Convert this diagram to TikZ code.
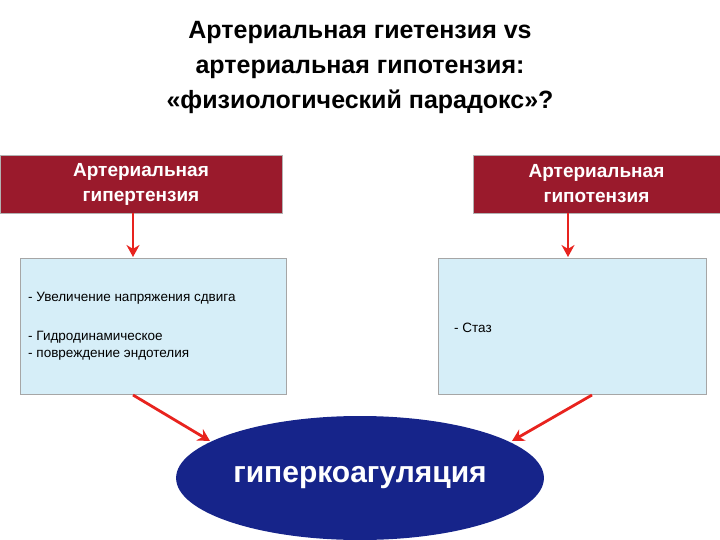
\documentclass[tikz,border=0pt]{standalone}
\usepackage{fontspec}
\setmainfont{Liberation Sans}
\usetikzlibrary{arrows.meta,shapes.geometric}
\definecolor{dred}{HTML}{9A1A2C}
\definecolor{lblue}{HTML}{D6EEF8}
\definecolor{navy}{HTML}{16248A}
\definecolor{arr}{HTML}{E8231E}
\tikzset{
 hdr/.style={fill=dred,draw=gray!60,text=white,font=\fontsize{19}{25}\selectfont\bfseries,align=center,inner sep=0},
 body/.style={fill=lblue,draw=gray!70,line width=0.8pt},
 txt/.style={font=\fontsize{13.5}{16.5}\selectfont,align=left,anchor=west,inner sep=0},
 rarr/.style={draw=arr,line width=2.8pt,-{Stealth[length=12pt,width=13pt]}}
}
\begin{document}
\begin{tikzpicture}[x=1pt,y=-1pt]
\useasboundingbox (0,0) rectangle (720,540);
\node[font=\fontsize{25}{35}\selectfont\bfseries,align=center] (title) at (360,67)
 {Артериальная гиетензия vs\\артериальная гипотензия:\\«физиологический парадокс»?};
\node[hdr,minimum width=282pt,minimum height=58pt] (h1) at (141,184) {Артериальная\\гипертензия};
\node[hdr,minimum width=247pt,minimum height=58pt] (h2) at (596.5,184) {Артериальная\\гипотензия};
\node[body,minimum width=266pt,minimum height=136pt] (b1) at (153,326) {};
\node[body,minimum width=268pt,minimum height=136pt] (b2) at (572,326) {};
\node[txt] (t1) at (28,298) {- Увеличение напряжения сдвига};
\node[txt] (t2) at (28,346) {- Гидродинамическое\\- повреждение эндотелия};
\node[txt] (t3) at (454,328) {- Стаз};
\node[fill=navy,ellipse,minimum width=294pt,minimum height=124pt,text=white,font=\fontsize{30}{34}\selectfont\bfseries] (e) at (360,478) {гиперкоагуляция};
\draw[rarr] (h1.south -| 133,0) -- (133,257);
\draw[rarr] (h2.south -| 568,0) -- (568,257);
\draw[rarr] (133,395) -- (210,441);
\draw[rarr] (592,395) -- (512,441);
\end{tikzpicture}
\end{document}
